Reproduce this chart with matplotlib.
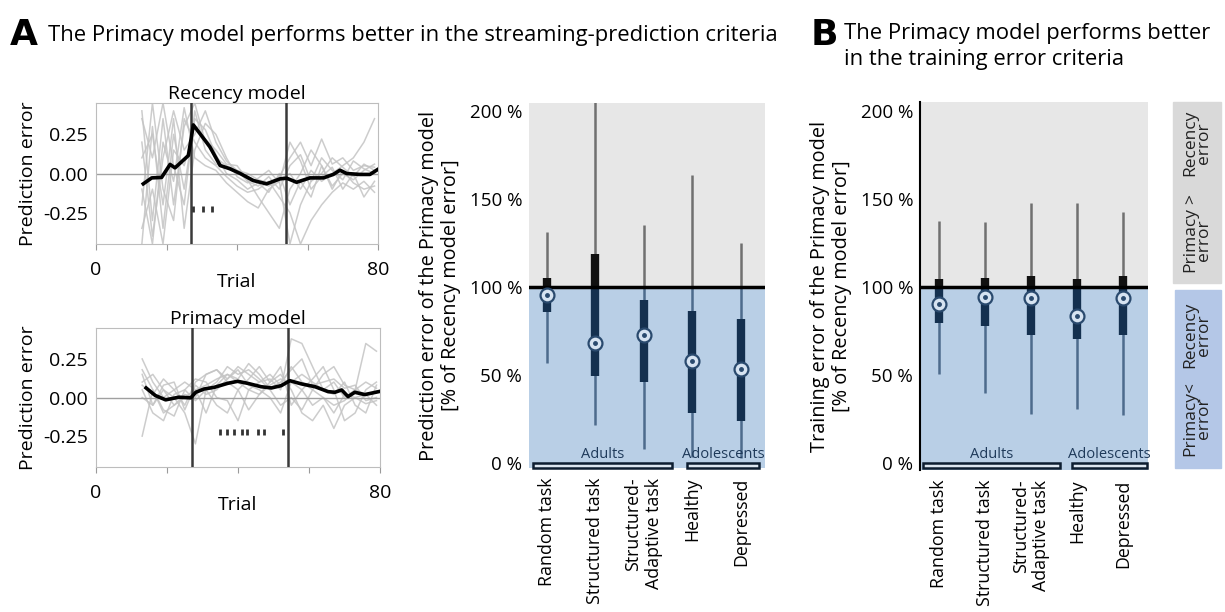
import matplotlib
matplotlib.use("Agg")
import numpy as np
from matplotlib import pyplot as plt
from matplotlib.patches import Rectangle

plt.rcParams['font.family'] = ['Open Sans', 'DejaVu Sans']

# ---- data ------------------------------------------------------------------
# left panels: mean prediction error per trial
rec_trial = [13.4, 15.8, 18.6, 21, 22.4, 25.2, 26.2, 27.6, 29.5, 32.3, 35.2, 38, 40.9,
             44.6, 48.4, 52.2, 54.1, 56.9, 60.7, 64.5, 67.3, 69.2, 71.1, 74.9, 77.7, 80]
rec_mean = [-0.066, -0.028, -0.025, 0.058, 0.036, 0.094, 0.115, 0.31, 0.254, 0.17, 0.051,
            0.03, 0.0, -0.045, -0.066, -0.034, -0.03, -0.056, -0.028, -0.028, -0.006,
            0.021, 0.0, -0.006, -0.006, 0.027]
pri_trial = [14.1, 16.7, 19.6, 23.3, 26.7, 28.1, 30.4, 33.3, 37.1, 39.9, 42.7, 46.5, 49.4,
             52.2, 54.6, 57.9, 61.7, 65.4, 67.3, 69.2, 71, 72.9, 75.7, 80]
pri_mean = [0.062, 0.013, -0.015, 0.002, -0.002, 0.034, 0.055, 0.066, 0.092, 0.105, 0.092,
            0.07, 0.062, 0.077, 0.109, 0.088, 0.07, 0.038, 0.034, 0.049, 0.006, 0.034,
            0.019, 0.04]

# individual subjects (a subset, read roughly)
subj_trial = [13, 16, 19, 22, 25, 28, 31, 34, 37, 40, 43, 46, 49, 52, 55, 58, 61, 64, 67,
              70, 73, 76, 79]
rec_subj = [
    [0.40, -0.30, 0.35, -0.20, 0.30, 0.45, 0.20, 0.10, 0.05, 0.02, -0.05, -0.08, -0.02, -0.10, 0.05, 0.12, -0.05, 0.10, 0.02, -0.04, 0.08, 0.03, 0.00],
    [-0.45, 0.30, -0.35, 0.25, -0.10, 0.35, 0.28, 0.12, 0.00, -0.04, -0.10, -0.06, -0.12, 0.00, -0.20, -0.05, -0.15, 0.05, -0.10, 0.02, -0.06, -0.10, -0.08],
    [0.20, -0.40, 0.10, 0.40, 0.15, 0.25, 0.40, 0.20, 0.08, 0.02, 0.00, -0.04, -0.06, -0.02, 0.10, 0.20, 0.05, 0.22, 0.06, 0.10, 0.02, 0.05, 0.04],
    [-0.20, 0.45, -0.10, -0.30, 0.35, 0.20, 0.10, 0.05, -0.02, -0.08, -0.12, -0.10, -0.05, -0.15, -0.25, -0.45, -0.30, -0.20, -0.12, -0.06, -0.10, -0.05, -0.12],
    [0.35, 0.10, 0.45, 0.05, -0.20, 0.40, 0.15, 0.06, 0.04, 0.00, -0.02, -0.05, -0.08, -0.04, 0.00, -0.10, 0.02, -0.05, 0.00, 0.05, 0.10, 0.20, 0.35],
    [-0.35, -0.10, -0.45, 0.15, 0.05, 0.30, 0.22, 0.15, 0.06, 0.05, -0.04, -0.15, -0.25, -0.35, -0.10, 0.00, 0.15, 0.05, -0.08, 0.00, -0.04, 0.02, 0.06],
    [0.10, 0.25, -0.20, 0.35, -0.35, 0.15, 0.32, 0.25, 0.10, -0.02, -0.06, -0.03, 0.02, -0.06, 0.20, 0.08, -0.10, -0.02, 0.04, -0.10, 0.00, -0.15, -0.05],
    [-0.10, -0.45, 0.20, -0.05, 0.42, 0.10, 0.05, 0.02, -0.06, -0.12, -0.18, -0.22, -0.10, -0.05, -0.45, -0.20, -0.05, 0.00, 0.10, 0.04, -0.02, 0.06, 0.02],
]
pri_subj = [
    [0.25, 0.10, 0.00, 0.05, -0.05, 0.10, 0.15, 0.18, 0.12, 0.20, 0.15, 0.10, 0.12, 0.05, 0.38, 0.35, 0.20, 0.05, 0.10, 0.00, 0.05, 0.02, 0.04],
    [-0.25, 0.05, -0.10, -0.05, 0.00, 0.05, 0.08, 0.12, 0.15, 0.10, 0.05, 0.02, 0.08, 0.12, 0.10, 0.05, -0.05, 0.00, -0.10, 0.02, 0.00, -0.04, -0.02],
    [0.15, -0.05, 0.05, 0.00, -0.10, -0.30, 0.05, 0.10, 0.20, 0.15, 0.18, 0.12, 0.05, -0.05, 0.00, -0.08, 0.05, 0.15, 0.20, 0.08, 0.05, 0.10, 0.06],
    [0.05, -0.10, -0.15, 0.02, 0.05, 0.12, 0.10, 0.00, -0.02, -0.15, 0.05, 0.10, 0.15, 0.08, 0.20, 0.10, 0.05, 0.00, -0.05, -0.02, 0.05, 0.35, 0.30],
    [0.10, 0.15, 0.05, -0.05, 0.02, 0.00, 0.15, 0.18, 0.10, 0.05, 0.12, 0.20, 0.10, 0.15, 0.05, -0.10, -0.15, -0.05, -0.20, -0.05, 0.00, 0.02, -0.05],
    [0.00, -0.05, 0.08, 0.10, -0.08, 0.08, 0.02, 0.05, 0.12, 0.18, 0.08, 0.05, 0.00, -0.10, 0.10, 0.15, 0.10, 0.05, 0.02, 0.10, -0.05, -0.10, 0.08],
    [0.18, 0.05, -0.08, -0.12, 0.05, -0.02, 0.05, -0.05, -0.10, 0.05, -0.08, 0.02, 0.10, 0.20, -0.05, 0.05, 0.12, 0.20, 0.05, -0.15, -0.10, 0.05, 0.10],
    [0.08, 0.02, 0.12, 0.05, 0.10, 0.05, -0.10, 0.08, 0.15, 0.12, 0.22, 0.15, 0.06, 0.10, 0.18, 0.25, 0.08, 0.10, 0.12, 0.06, 0.08, -0.02, 0.00],
]
rec_sig = [27.5, 30.4, 32.9]
pri_sig = [35, 37, 39, 41, 42.5, 45.7, 47.4, 52.8]
block_change = [27, 54]

# box summaries: whisker low, q1, median, q3, whisker high  (% of recency error)
groups = ['Random task', 'Structured task', 'Structured-\nAdaptive task', 'Healthy', 'Depressed']
pred_lo = [57, 21.6, 7.8, 3.6, 3]
pred_q1 = [86, 49.4, 46, 28.6, 24]
pred_med = [95.5, 68, 72.7, 58, 53.2]
pred_q3 = [105, 119, 92.6, 86.4, 81.6]
pred_hi = [131, 215, 135, 163.6, 124.8]

train_lo = [50.6, 39.6, 27.8, 30.7, 27.3]
train_q1 = [79.4, 78, 72.7, 70.3, 72.7]
train_med = [90.3, 94.1, 93.6, 83.7, 94]
train_q3 = [104.4, 105, 106, 104.5, 106]
train_hi = [137.7, 137, 148, 148, 142.8]

GRAY_BG = '#e7e7e7'
BLUE_BG = '#b9cfe6'
NAVY = '#14304f'

# =============================================================================

def trace_panel(ax, title, mean_t, mean_v, subj, sig):
    for s in subj:
        ax.plot(subj_trial, s, color='#c4c4c4', lw=1.1, alpha=0.85, zorder=1)
    ax.axhline(0, color='#a0a0a0', lw=1, zorder=2)
    for b in block_change:
        ax.axvline(b, color='#3a3a3a', lw=1.8, zorder=3)
    ax.plot(mean_t, mean_v, color='black', lw=2.6, zorder=4)
    ax.plot(sig, [-0.225] * len(sig), ls='none', marker='|', ms=4, mew=2,
            color='#333333', zorder=5)
    ax.set_xlim(0, 80)
    ax.set_ylim(-0.45, 0.45)
    ax.set_yticks([0.25, 0, -0.25])
    ax.set_yticklabels(['0.25', '0.00', '-0.25'])
    ax.set_xticks([0, 20, 40, 60, 80])
    ax.set_xticklabels(['0', '', '', '', '80'])
    ax.tick_params(axis='y', length=0, labelsize=14, pad=6)
    ax.tick_params(axis='x', length=4, color='#9a9a9a', labelsize=14, pad=8)
    for sp in ax.spines.values():
        sp.set_color('#bdbdbd')
    ax.set_title(title, fontsize=14, pad=3)
    ax.set_xlabel('Trial', fontsize=14, labelpad=-4)
    ax.set_ylabel('Prediction error', fontsize=14, labelpad=4)


def box_panel(ax, lo, q1, med, q3, hi, ylabel, brackets):
    x = np.arange(len(groups))
    ax.axhspan(100, 300, color=GRAY_BG, zorder=0)
    ax.axhspan(-20, 100, color=BLUE_BG, zorder=0)
    for i in x:
        # whisker
        if hi[i] > 100:
            ax.vlines(i, max(lo[i], 100), hi[i], color='#707070', lw=1.8, zorder=2)
        ax.vlines(i, lo[i], min(hi[i], 100), color='#4d6b8c', lw=1.8, zorder=2)
        # box
        if q3[i] > 100:
            ax.vlines(i, max(q1[i], 100), q3[i], color='#111111', lw=6, zorder=3)
        ax.vlines(i, q1[i], min(q3[i], 100), color=NAVY, lw=6, zorder=3)
    ax.plot(x, med, ls='none', marker='o', ms=10, mfc='#d6e3f1', mec='#2a4a6e',
            mew=1.6, zorder=5)
    ax.plot(x, med, ls='none', marker='o', ms=2.5, color='#2a4a6e', zorder=6)
    ax.axhline(100, color='black', lw=2.5, zorder=4)

    ax.set_yticks([0, 50, 100, 150, 200])
    ax.set_yticklabels(['0 %', '50 %', '100 %', '150 %', '200 %'])
    ax.tick_params(axis='y', length=0, labelsize=13.5, pad=5)
    ax.set_xticks(x)
    ax.set_xticklabels(groups)
    ax.tick_params(axis='x', length=0, labelsize=12.8, pad=7)
    for t in ax.get_xticklabels():
        t.set_rotation(90)
        t.set_va('top')
        t.set_ha('center')
        t.set_multialignment('right')
    ax.set_ylabel(ylabel, fontsize=14.3, labelpad=6, linespacing=1.15)

    # group brackets along the bottom
    for x0, x1, name in brackets:
        ax.add_patch(Rectangle((x0, -2.6), x1 - x0, 2.6, facecolor='#dde6f0',
                               edgecolor='#0d1d30', lw=1.8, zorder=6, clip_on=False))
        ax.text((x0 + x1) / 2, 0.8, name, ha='center', va='bottom', fontsize=10.5,
                color='#1f3a5a', zorder=7)


# =============================================================================

fig = plt.figure(figsize=(12.25, 6.12), dpi=100)

ax1 = fig.add_axes([0.0784, 0.6013, 0.2302, 0.2304])
trace_panel(ax1, 'Recency model', rec_trial, rec_mean, rec_subj, rec_sig)

ax2 = fig.add_axes([0.0784, 0.2369, 0.2318, 0.2271])
trace_panel(ax2, 'Primacy model', pri_trial, pri_mean, pri_subj, pri_sig)

ax3 = fig.add_axes([0.4318, 0.2353, 0.1927, 0.5964])
box_panel(ax3, pred_lo, pred_q1, pred_med, pred_q3, pred_hi,
          'Prediction error of the Primacy model\n[% of Recency model error]',
          [(-0.28, 2.58, 'Adults'), (2.89, 4.38, 'Adolescents')])
ax3.set_xlim(-0.365, 4.5)
ax3.set_ylim(-2.84, 204.5)
for sp in ax3.spines.values():
    sp.set_visible(False)

ax4 = fig.add_axes([0.7510, 0.2320, 0.1861, 0.6013])
box_panel(ax4, train_lo, train_q1, train_med, train_q3, train_hi,
          'Training error of the Primacy model\n[% of Recency model error]',
          [(-0.35, 2.63, 'Adults'), (2.89, 4.52, 'Adolescents')])
ax4.set_xlim(-0.41, 4.54)
ax4.set_ylim(-3.98, 205.1)
for name, sp in ax4.spines.items():
    sp.set_visible(name == 'left')
ax4.spines['left'].set_color('black')
ax4.spines['left'].set_linewidth(1.5)

# panel headings
fig.text(0.008, 0.942, 'A', fontsize=26, fontweight='bold', va='center',
         family='DejaVu Sans')
fig.text(0.039, 0.942, 'The Primacy model performs better in the streaming-prediction criteria',
         fontsize=15.8, va='center')
fig.text(0.662, 0.942, 'B', fontsize=26, fontweight='bold', va='center',
         family='DejaVu Sans')
fig.text(0.689, 0.962, 'The Primacy model performs better\nin the training error criteria',
         fontsize=15.8, va='top', linespacing=1.3)

# right-hand key
W, H = 1225.0, 612.0
fig.patches.append(Rectangle((1173 / W, 1 - 283 / H), 48 / W, 181 / H,
                             transform=fig.transFigure, color='#d9d9d9', zorder=0))
fig.patches.append(Rectangle((1175 / W, 1 - 468 / H), 46 / W, 178 / H,
                             transform=fig.transFigure, color='#b4c7e7', zorder=0))
kw = dict(rotation=90, ha='center', va='center', fontsize=12.5, linespacing=0.8,
          color='#222222')
fig.text(1197 / W, 1 - 240 / H, 'Primacy\nerror', **kw)
fig.text(1191 / W, 1 - 199 / H, '>', **kw)
fig.text(1197 / W, 1 - 143 / H, 'Recency\nerror', **kw)
fig.text(1197 / W, 1 - 418 / H, 'Primacy<\nerror', **kw)
fig.text(1197 / W, 1 - 335 / H, 'Recency\nerror', **kw)

plt.savefig('out.png', dpi=100)
